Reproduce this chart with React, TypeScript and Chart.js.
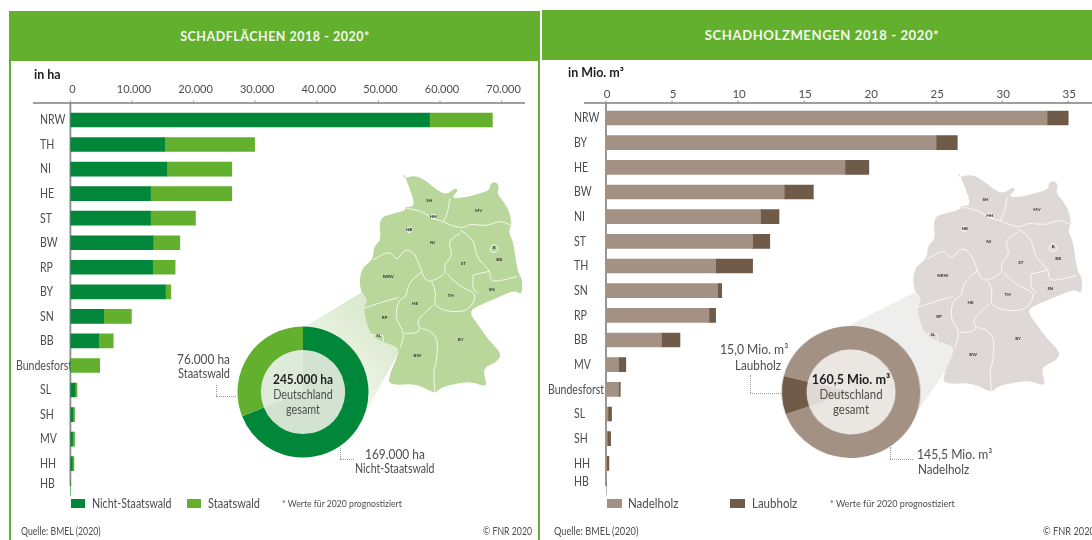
import React, { useEffect, useRef } from "react";
import { Chart, registerables } from "chart.js";

Chart.register(...registerables);

const FONT = "Lato, sans-serif";
const GREEN_DARK = "#00873A";
const GREEN_LIGHT = "#63B02E";
const WOOD_LIGHT = "#A39183";
const WOOD_DARK = "#705A48";
const TEXT = "#4d4d4d";

const areaStates = ["NRW", "TH", "NI", "HE", "ST", "BW", "RP", "BY", "SN", "BB", "Bundesforst", "SL", "SH", "MV", "HH", "HB"];
const areaPrivate = [58300, 15300, 15650, 13000, 13000, 13400, 13350, 15400, 5400, 4580, 0, 750, 400, 350, 300, 0];
const areaState = [10200, 14600, 10550, 13200, 7300, 4360, 3650, 900, 4500, 2370, 4750, 320, 280, 330, 270, 0];
const areaTicks = [0, 10000, 20000, 30000, 40000, 50000, 60000, 70000];

const woodStates = ["NRW", "BY", "HE", "BW", "NI", "ST", "TH", "SN", "RP", "BB", "MV", "Bundesforst", "SL", "SH", "HH", "HB"];
const woodConifer = [33.4, 25.0, 18.1, 13.5, 11.7, 11.1, 8.3, 8.45, 7.8, 4.2, 0.95, 0.95, 0.15, 0.1, 0.05, 0];
const woodBroadleaf = [1.6, 1.6, 1.8, 2.2, 1.4, 1.3, 2.8, 0.31, 0.5, 1.4, 0.55, 0.13, 0.27, 0.25, 0.17, 0];
const woodTicks = [0, 5, 10, 15, 20, 25, 30, 35];

const areaTotal = [169000, 76000];
const woodTotal = [145.5, 15.0];

// Decorative outline of Germany, in a local sketch coordinate space.
const mapOutline = [
  [190,22],[190,40],[205,36],[230,32],[262,50],[290,75],[320,90],[345,68],[356,76],[332,100],[375,98],[420,85],[450,75],[450,55],[470,50],[478,70],[470,85],[495,115],[510,145],[515,180],[505,200],[520,230],[525,270],[533,320],[548,345],[545,392],[525,375],[480,395],[420,420],[385,440],[415,480],[445,525],[486,565],[470,592],[425,610],[445,670],[400,650],[350,655],[300,668],[285,688],[230,655],[146,662],[148,630],[170,580],[180,548],[130,532],[95,512],[80,475],[70,430],[85,405],[58,375],[62,310],[100,285],[100,245],[125,225],[115,160],[160,145],[200,135],[192,125],[228,125],[205,60],
];
const mapBorders = [
  [[200,130],[240,135],[275,160],[310,170]],
  [[330,100],[325,140],[310,170]],
  [[310,170],[360,195],[390,175],[440,185],[480,165],[510,180]],
  [[360,205],[320,225],[340,270],[310,300],[320,325],[275,350],[255,345],[245,320],[225,265],[195,250],[170,290],[150,255],[100,285]],
  [[360,195],[400,215],[410,280],[450,315],[450,345],[470,350],[530,335]],
  [[400,330],[450,318]],
  [[320,325],[355,365],[415,385],[385,440],[320,440],[280,420],[290,385],[275,350]],
  [[400,330],[395,370],[415,385]],
  [[245,320],[205,350],[200,395],[175,405],[165,460],[195,505],[180,548]],
  [[70,430],[130,410],[175,398]],
  [[95,510],[130,505],[130,530]],
  [[280,420],[225,465],[245,490],[230,505],[195,505]],
  [[245,490],[295,500],[290,590],[280,620],[285,682]],
];
const mapIslands = [
  [[450,250],[462,235],[476,250],[470,262],[452,262]],
  [[198,190],[212,184],[220,194],[210,204],[198,200]],
  [[270,148],[290,148],[290,162],[272,162]],
];
const mapLabels: [string, number, number][] = [
  ["SH",268,107],["HH",280,156],["MV",416,137],["HB",208,193],["NI",277,233],["B",463,247],["BB",478,284],["NRW",145,335],["ST",370,295],["SN",455,375],["HE",225,415],["TH",332,393],["RP",134,458],["SL",116,513],["BW",232,571],["BY",362,523],
];

function drawMap(ctx: any, ox: number, oy: number, sx: number, sy: number, fill: string) {
  const tx = (p: number[]) => [ox + p[0] * sx, oy + p[1] * sy];
  const trace = (pts: number[][], closed: boolean) => {
    const q = pts.map(tx);
    const mid = (m: number[], n: number[]) => [(m[0] + n[0]) / 2, (m[1] + n[1]) / 2];
    ctx.beginPath();
    if (closed) {
      const s = mid(q[q.length - 1], q[0]);
      ctx.moveTo(s[0], s[1]);
      q.forEach((p, i) => {
        const e = mid(p, q[(i + 1) % q.length]);
        ctx.quadraticCurveTo(p[0], p[1], e[0], e[1]);
      });
      ctx.closePath();
    } else {
      ctx.moveTo(q[0][0], q[0][1]);
      for (let i = 1; i < q.length - 1; i++) {
        const e = mid(q[i], q[i + 1]);
        ctx.quadraticCurveTo(q[i][0], q[i][1], e[0], e[1]);
      }
      ctx.lineTo(q[q.length - 1][0], q[q.length - 1][1]);
    }
  };
  ctx.save();
  ctx.lineJoin = "round";
  trace(mapOutline, true);
  ctx.fillStyle = fill;
  ctx.fill();
  ctx.strokeStyle = "#ffffff";
  ctx.lineWidth = 0.8;
  mapBorders.forEach((b) => {
    trace(b, false);
    ctx.stroke();
  });
  mapIslands.forEach((b) => {
    trace(b, true);
    ctx.stroke();
  });
  ctx.fillStyle = "#333";
  ctx.font = `bold 4.5px ${FONT}`;
  ctx.textAlign = "center";
  ctx.textBaseline = "middle";
  mapLabels.forEach(([t, x, y]) => {
    const q = tx([x, y]);
    ctx.fillText(t, q[0], q[1]);
  });
  ctx.restore();
}

type BarCfg = {
  labels: string[];
  a: number[];
  b: number[];
  nameA: string;
  nameB: string;
  colorA: string;
  colorB: string;
  max: number;
  tickValues: number[];
  tickSize: number;
  labelOffset: number;
  axisLeft: number;
  topEdge: number;
  axisY: number;
  tickPad: number;
  rowsBottom: number;
  rightPad: number;
  lineLeft: number;
  lineBottom: number;
  labelX: number;
  longLabelX: number;
  hbShift: number;
  format: (v: number) => string;
  background: (ctx: any) => void;
};

function buildBar(canvas: HTMLCanvasElement, c: BarCfg) {
  const overlay = {
    id: "overlay",
    beforeDatasetsDraw(chart: any) {
      const ctx = chart.ctx;
      c.background(ctx);
      const x = chart.scales.x;
      const y = chart.scales.y;
      ctx.save();
      ctx.strokeStyle = "#7f7f7f";
      ctx.lineWidth = 1.4;
      ctx.beginPath();
      ctx.moveTo(c.lineLeft, c.axisY);
      ctx.lineTo(x.right, c.axisY);
      ctx.stroke();
      ctx.lineWidth = 0.8;
      x.ticks.forEach((_: any, i: number) => {
        const px = x.getPixelForTick(i);
        ctx.beginPath();
        ctx.moveTo(px, c.axisY - 2.5);
        ctx.lineTo(px, c.axisY);
        ctx.stroke();
      });
      ctx.strokeStyle = "#8c8c8c";
      ctx.lineWidth = 1.8;
      ctx.beginPath();
      ctx.moveTo(x.left, c.axisY);
      ctx.lineTo(x.left, c.lineBottom);
      ctx.stroke();
      ctx.fillStyle = TEXT;
      ctx.font = `13.5px ${FONT}`;
      ctx.textBaseline = "middle";
      ctx.textAlign = "left";
      const squeeze = 0.78;
      c.labels.forEach((t, i) => {
        const lx = t === "Bundesforst" ? c.longLabelX : c.labelX;
        const ly = y.getPixelForTick(i) + (t === "HB" ? c.hbShift : 0);
        ctx.save();
        ctx.translate(lx, ly);
        ctx.scale(squeeze, 1);
        ctx.fillText(t, 0, 0);
        ctx.restore();
      });
      ctx.restore();
    },
  };
  return new Chart(canvas, {
    type: "bar",
    data: {
      labels: c.labels,
      datasets: [
        { label: c.nameA, data: c.a, backgroundColor: c.colorA, barThickness: 14, borderWidth: 0 },
        { label: c.nameB, data: c.b, backgroundColor: c.colorB, barThickness: 14, borderWidth: 0 },
      ],
    },
    options: {
      indexAxis: "y",
      responsive: false,
      animation: false,
      layout: { padding: { left: 0, top: 0, right: c.rightPad, bottom: 540 - c.rowsBottom } },
      plugins: { legend: { display: false }, tooltip: { enabled: false }, title: { display: false } },
      scales: {
        x: {
          type: "linear",
          position: "top",
          stacked: true,
          min: 0,
          max: c.max,
          grid: { display: false, drawTicks: false },
          border: { display: false },
          afterBuildTicks: (s: any) => {
            s.ticks = c.tickValues.map((value) => ({ value }));
          },
          afterFit: (s: any) => {
            s.height = c.topEdge;
          },
          ticks: {
            includeBounds: false,
            maxRotation: 0,
            autoSkip: false,
            padding: c.tickPad,
            labelOffset: c.labelOffset,
            color: TEXT,
            font: { family: FONT, size: c.tickSize },
            callback: (v: any) => c.format(Number(v)),
          },
        },
        y: {
          type: "category",
          stacked: true,
          grid: { display: false },
          border: { display: false },
          ticks: { display: false },
          afterFit: (s: any) => {
            s.width = c.axisLeft;
          },
        },
      },
    } as any,
    plugins: [overlay],
  } as any);
}

function buildDonut(canvas: HTMLCanvasElement, labels: string[], data: number[], colors: string[], rotation: number, r: number, rIn: number, inner: string, inner2: string, from: number, to: number) {
  const fillInner = {
    id: "fillInner",
    beforeDatasetsDraw(chart: any) {
      const ctx = chart.ctx;
      const cx = chart.width / 2;
      const cy = chart.height / 2;
      ctx.save();
      ctx.fillStyle = inner;
      ctx.beginPath();
      ctx.arc(cx, cy, rIn + 1, 0, Math.PI * 2);
      ctx.fill();
      ctx.fillStyle = inner2;
      ctx.beginPath();
      ctx.moveTo(cx, cy);
      ctx.arc(cx, cy, rIn + 1, ((from - 90) * Math.PI) / 180, ((to - 90) * Math.PI) / 180);
      ctx.closePath();
      ctx.fill();
      ctx.restore();
    },
  };
  return new Chart(canvas, {
    type: "doughnut",
    data: { labels, datasets: [{ data, backgroundColor: colors, borderWidth: 0 }] },
    options: {
      responsive: false,
      animation: false,
      rotation,
      radius: r,
      cutout: rIn,
      plugins: { legend: { display: false }, tooltip: { enabled: false } },
      layout: { padding: 0 },
    } as any,
    plugins: [fillInner],
  } as any);
}

function T(p: { x: number; y: number; w?: number; align?: "left" | "center" | "right"; size?: number; bold?: boolean; color?: string; squeeze?: number; spacing?: number; children: any }) {
  const w = p.w ?? 200;
  const align = p.align ?? "left";
  const left = align === "left" ? p.x : align === "center" ? p.x - w / 2 : p.x - w;
  return (
    <div
      style={{
        position: "absolute",
        left,
        top: p.y - 10,
        width: w,
        height: 20,
        lineHeight: "20px",
        textAlign: align,
        fontFamily: FONT,
        fontSize: p.size ?? 12.5,
        fontWeight: p.bold ? 700 : 400,
        color: p.color ?? TEXT,
        letterSpacing: p.spacing ?? 0,
        whiteSpace: "nowrap",
        transform: `scaleX(${p.squeeze ?? 0.85})`,
        transformOrigin: align,
      }}
    >
      {p.children}
    </div>
  );
}

function Box(p: { x: number; y: number; w: number; h: number; c: string }) {
  return <div style={{ position: "absolute", left: p.x, top: p.y, width: p.w, height: p.h, background: p.c }} />;
}

function Leader(p: { x: number; y1: number; y2: number; x2: number }) {
  const d = "1px dotted #9a9a9a";
  return (
    <>
      <div style={{ position: "absolute", left: p.x, top: p.y1, height: p.y2 - p.y1, width: 0, borderLeft: d }} />
      <div style={{ position: "absolute", left: p.x, top: p.y2, width: p.x2 - p.x, height: 0, borderTop: d }} />
    </>
  );
}

export default function App() {
  const a = useRef<HTMLCanvasElement>(null);
  const b = useRef<HTMLCanvasElement>(null);
  const c = useRef<HTMLCanvasElement>(null);
  const d = useRef<HTMLCanvasElement>(null);

  useEffect(() => {
    document.body.style.margin = "0";
    const coneLeft = (ctx: any) => {
      ctx.save();
      const g = ctx.createLinearGradient(300, 420, 385, 330);
      g.addColorStop(0, "#ffffff");
      g.addColorStop(1, "#dcead0");
      ctx.fillStyle = g;
      ctx.beginPath();
      ctx.moveTo(306, 326);
      ctx.lineTo(362, 292);
      ctx.lineTo(400, 350);
      ctx.lineTo(366, 412);
      ctx.closePath();
      ctx.fill();
      ctx.restore();
      drawMap(ctx, 340, 165, 1 / 3, 1 / 3, "#B9D79B");
    };
    const coneRight = (ctx: any) => {
      ctx.save();
      ctx.fillStyle = "#EEEEEC";
      ctx.beginPath();
      ctx.moveTo(850 - 541, 325);
      ctx.lineTo(915 - 541, 292);
      ctx.lineTo(960 - 541, 350);
      ctx.lineTo(915 - 541, 415);
      ctx.closePath();
      ctx.fill();
      ctx.restore();
      drawMap(ctx, 892.6 - 541, 164, 0.3467, 1 / 3, "#DED9D6");
    };
    const charts = [
      buildBar(a.current!, {
        labels: areaStates, a: areaPrivate, b: areaState, nameA: "Nicht-Staatswald", nameB: "Staatswald",
        colorA: GREEN_DARK, colorB: GREEN_LIGHT, max: 73800, tickValues: areaTicks, tickSize: 11, labelOffset: 2, axisLeft: 70.4, topEdge: 107.7, axisY: 103,
        tickPad: 12, rowsBottom: 500.5, rightPad: 13, lineLeft: 33, lineBottom: 486, labelX: 40, longLabelX: 16, hbShift: -5,
        format: (v) => v.toLocaleString("de-DE"), background: coneLeft,
      }),
      buildBar(b.current!, {
        labels: woodStates, a: woodConifer, b: woodBroadleaf, nameA: "Nadelholz", nameB: "Laubholz",
        colorA: WOOD_LIGHT, colorB: WOOD_DARK, max: 36.8, tickValues: woodTicks, tickSize: 11.5, labelOffset: 1, axisLeft: 65, topEdge: 105.7, axisY: 103,
        tickPad: 5, rowsBottom: 500.3, rightPad: 0, lineLeft: 43, lineBottom: 486, labelX: 33, longLabelX: 7, hbShift: -6,
        format: (v) => String(v), background: coneRight,
      }),
      buildDonut(c.current!, ["Nicht-Staatswald", "Staatswald"], areaTotal, [GREEN_DARK, GREEN_LIGHT], 0, 65.5, 45, "#D3E3D1", "#DEEADA", 248, 360),
      buildDonut(d.current!, ["Nadelholz", "Laubholz"], woodTotal, [WOOD_LIGHT, WOOD_DARK], 284, 66, 45, "#EAE7E3", "#DED9D3", 250, 284),
    ];
    return () => charts.forEach((x) => x.destroy());
  }, []);

  return (
    <div style={{ position: "relative", width: 1092, height: 540, overflow: "hidden", background: "#fff", filter: "blur(0.5px)" }}>
      <Box x={9} y={11} w={531} h={50} c={GREEN_LIGHT} />
      <Box x={9} y={11} w={2} h={529} c={GREEN_LIGHT} />
      <Box x={538} y={11} w={2} h={529} c={GREEN_LIGHT} />
      <Box x={542} y={10} w={550} h={50} c={GREEN_LIGHT} />
      <T x={275} y={36} w={400} align="center" size={13} bold color="#f4f9ef" spacing={0.55} squeeze={0.96}>SCHADFLÄCHEN 2018 - 2020*</T>
      <T x={822} y={35} w={400} align="center" size={13} bold color="#f4f9ef" spacing={0.55} squeeze={1.01}>SCHADHOLZMENGEN 2018 - 2020*</T>

      <canvas ref={a} width={538} height={540} style={{ position: "absolute", left: 0, top: 0, width: 538, height: 540 }} />
      <canvas ref={b} width={551} height={540} style={{ position: "absolute", left: 541, top: 0, width: 551, height: 540 }} />
      <canvas ref={c} width={140} height={140} style={{ position: "absolute", left: 233, top: 321.5, width: 140, height: 140 }} />
      <canvas ref={d} width={140} height={140} style={{ position: "absolute", left: 781, top: 321.5, width: 140, height: 140, transform: "scaleX(1.05)" }} />

      <T x={34} y={75} bold size={12.5} color="#222" squeeze={1}>in ha</T>
      <T x={568} y={73} bold size={12.5} color="#222" squeeze={1}>in Mio. m³</T>

      <Leader x={216} y1={385} y2={396} x2={236} />
      <Leader x={340} y1={448} y2={459} x2={354} />
      <Leader x={750} y1={375} y2={393} x2={781} />
      <Leader x={890} y1={447} y2={459} x2={913} />

      <T x={230} y={359} align="right" size={14}>76.000 ha</T>
      <T x={230} y={374} align="right" size={12.5} squeeze={0.88}>Staatswald</T>
      <T x={303} y={379} align="center" size={14} bold color="#222">245.000 ha</T>
      <T x={303} y={394} align="center" size={13} squeeze={0.83}>Deutschland</T>
      <T x={303} y={409} align="center" size={13} squeeze={0.83}>gesamt</T>
      <T x={365} y={454} size={14}>169.000 ha</T>
      <T x={355} y={469} size={12.5}>Nicht-Staatswald</T>

      <T x={720} y={349} size={14} squeeze={0.87}>15,0 Mio. m³</T>
      <T x={735} y={365} size={13} squeeze={0.9}>Laubholz</T>
      <T x={851} y={379} align="center" size={14} bold color="#222" squeeze={0.9}>160,5 Mio. m³</T>
      <T x={851} y={394} align="center" size={13} squeeze={0.88}>Deutschland</T>
      <T x={851} y={409} align="center" size={13} squeeze={0.88}>gesamt</T>
      <T x={917} y={454} size={14} squeeze={0.87}>145,5 Mio. m³</T>
      <T x={918} y={469} size={13} squeeze={0.9}>Nadelholz</T>

      <Box x={71} y={499} w={14} h={9} c={GREEN_DARK} />
      <T x={92} y={503.5} size={12.5}>Nicht-Staatswald</T>
      <Box x={187} y={499} w={14} h={9} c={GREEN_LIGHT} />
      <T x={208} y={503.5} size={12.5} squeeze={0.88}>Staatswald</T>
      <T x={282} y={503.5} size={9} squeeze={0.96}>* Werte für 2020 prognostiziert</T>

      <Box x={607} y={499} w={15} h={9} c={WOOD_LIGHT} />
      <T x={628} y={503.5} size={12.5} squeeze={0.92}>Nadelholz</T>
      <Box x={730} y={499} w={15} h={9} c={WOOD_DARK} />
      <T x={752} y={503.5} size={12.5} squeeze={0.92}>Laubholz</T>
      <T x={830} y={503.5} size={9} squeeze={1.0}>* Werte für 2020 prognostiziert</T>

      <T x={21} y={531} size={10.5} squeeze={0.83}>Quelle: BMEL (2020)</T>
      <T x={532} y={531} align="right" size={10.5} squeeze={0.83}>© FNR 2020</T>
      <T x={554} y={531} size={10.5} squeeze={0.88}>Quelle: BMEL (2020)</T>
      <T x={1043} y={531} size={10.5} squeeze={0.88}>© FNR 2020</T>
    </div>
  );
}
